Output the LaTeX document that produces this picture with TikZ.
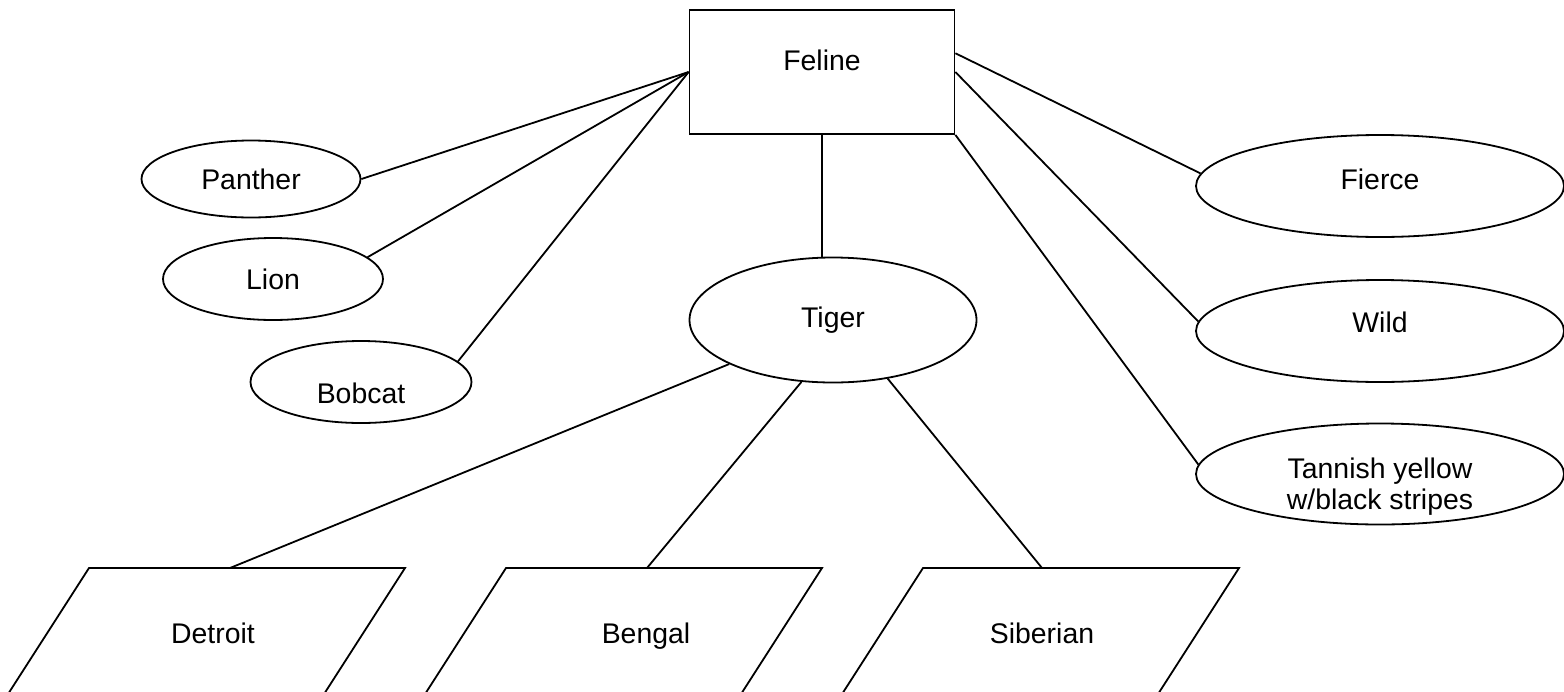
\documentclass[tikz,border=0pt]{standalone}
\usepackage{fontspec}
\setmainfont{Liberation Sans}
\usetikzlibrary{shapes.geometric,calc}
\begin{document}
\begin{tikzpicture}[x=0.5pt,y=-0.5pt,line width=0.9pt,
  every node/.style={font=\fontsize{14.2}{15.5}\selectfont,inner sep=0pt},
  attr/.style={shape=ellipse,draw=black},
  kind/.style={text depth=0pt}]
  \useasboundingbox (0,0) rectangle (1564,691);
  \node[shape=rectangle,draw=black,minimum width=132.5pt,minimum height=62pt,text depth=12pt] (feline) at (822,72) {Feline};
  \node[attr,minimum width=109.5pt,minimum height=38.5pt] (panther) at (251,179) {Panther};
  \node[attr,minimum width=110pt,minimum height=41pt] (lion) at (273,279) {Lion};
  \node[attr,minimum width=110.5pt,minimum height=41pt,text height=22pt] (bobcat) at (361,382) {Bobcat};
  \node[attr,minimum width=143.5pt,minimum height=62.5pt] (tiger) at (833,320) {Tiger};
  \node[attr,minimum width=184pt,minimum height=51pt,text depth=7pt] (fierce) at (1380,186) {Fierce};
  \node[attr,minimum width=184pt,minimum height=51pt,text depth=9pt] (wild) at (1380,331) {Wild};
  \node[attr,minimum width=184pt,minimum height=50.5pt,align=center,text height=35pt,text depth=0pt] (tannish) at (1380,474) {Tannish yellow\\w/black stripes};
  \node[kind] (detroit) at (213,633) {Detroit};
  \node[kind] (bengal) at (646,633) {Bengal};
  \node[kind] (siberian) at (1042,633) {Siberian};
  % parallelograms, cut by the lower edge
  \foreach \n/\dx in {detroit/-8,bengal/-24,siberian/-3}
    \draw ($(\n)+(\dx-116,-65)$) -- ($(\n)+(\dx+200,-65)$) -- ($(\n)+(\dx+116.5,65)$) -- ($(\n)+(\dx-199.5,65)$) -- cycle;
  \coordinate (detroit top) at ($(detroit)+(17,-65)$);
  \coordinate (bengal top) at ($(bengal)+(1,-65)$);
  \coordinate (siberian top) at ($(siberian)+(0,-65)$);
  \path (feline.west) edge (panther.east);
  \path (feline.west) edge (lion.13);
  \path (feline.west) edge (bobcat.12);
  \path (feline.south) edge (feline.south |- tiger.north);
  \path (feline.8.5) edge (fierce.176.5);
  \path (feline.east) edge (wild.177);
  \path (feline.south east) edge (tannish.177);
  \path (tiger.-157) edge (detroit top);
  \path (tiger.-117) edge (bengal top);
  \path (tiger.-47) edge (siberian top);
\end{tikzpicture}
\end{document}
